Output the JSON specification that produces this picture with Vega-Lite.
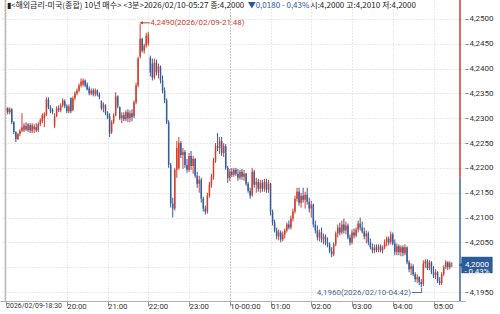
{
"$schema":"https://vega.github.io/schema/vega-lite/v6.json",
"width":465,"height":301,
"autosize":{"type":"none"},
"padding":{"left":0,"top":0,"right":35,"bottom":13},
"background":"white",
"config":{"view":{"stroke":null},"axis":{"labelFont":"Roboto, sans-serif","labelColor":"#333","title":null},"axisY":{"labelOverlap":false,"labelSeparation":0}},
"datasets":{"k":[
{"t":"2026-02-09T18:30","o":4.2315,"h":4.2322,"l":4.2308,"c":4.2320},
{"t":"2026-02-09T18:33","o":4.2320,"h":4.2322,"l":4.2308,"c":4.2312},
{"t":"2026-02-09T18:36","o":4.2312,"h":4.2322,"l":4.2308,"c":4.2318},
{"t":"2026-02-09T18:39","o":4.2318,"h":4.2320,"l":4.2288,"c":4.2292},
{"t":"2026-02-09T18:42","o":4.2292,"h":4.2294,"l":4.2268,"c":4.2272},
{"t":"2026-02-09T18:45","o":4.2272,"h":4.2274,"l":4.2252,"c":4.2258},
{"t":"2026-02-09T18:48","o":4.2258,"h":4.2270,"l":4.2256,"c":4.2268},
{"t":"2026-02-09T18:51","o":4.2268,"h":4.2278,"l":4.2264,"c":4.2275},
{"t":"2026-02-09T18:54","o":4.2275,"h":4.2310,"l":4.2272,"c":4.2282},
{"t":"2026-02-09T18:57","o":4.2276,"h":4.2290,"l":4.2272,"c":4.2286},
{"t":"2026-02-09T19:00","o":4.2284,"h":4.2292,"l":4.2274,"c":4.2278},
{"t":"2026-02-09T19:03","o":4.2276,"h":4.2290,"l":4.2272,"c":4.2288},
{"t":"2026-02-09T19:06","o":4.2286,"h":4.2290,"l":4.2270,"c":4.2276},
{"t":"2026-02-09T19:09","o":4.2274,"h":4.2290,"l":4.2270,"c":4.2286},
{"t":"2026-02-09T19:12","o":4.2278,"h":4.2288,"l":4.2270,"c":4.2284},
{"t":"2026-02-09T19:15","o":4.2282,"h":4.2290,"l":4.2272,"c":4.2276},
{"t":"2026-02-09T19:18","o":4.2276,"h":4.2292,"l":4.2272,"c":4.2288},
{"t":"2026-02-09T19:21","o":4.2288,"h":4.2300,"l":4.2284,"c":4.2296},
{"t":"2026-02-09T19:24","o":4.2294,"h":4.2310,"l":4.2290,"c":4.2306},
{"t":"2026-02-09T19:27","o":4.2300,"h":4.2312,"l":4.2282,"c":4.2308},
{"t":"2026-02-09T19:30","o":4.2306,"h":4.2342,"l":4.2304,"c":4.2338},
{"t":"2026-02-09T19:33","o":4.2338,"h":4.2342,"l":4.2318,"c":4.2322},
{"t":"2026-02-09T19:36","o":4.2322,"h":4.2326,"l":4.2310,"c":4.2314},
{"t":"2026-02-09T19:39","o":4.2316,"h":4.2320,"l":4.2308,"c":4.2312},
{"t":"2026-02-09T19:42","o":4.2284,"h":4.2310,"l":4.2280,"c":4.2304},
{"t":"2026-02-09T19:45","o":4.2304,"h":4.2324,"l":4.2302,"c":4.2320},
{"t":"2026-02-09T19:48","o":4.2320,"h":4.2326,"l":4.2312,"c":4.2316},
{"t":"2026-02-09T19:51","o":4.2316,"h":4.2330,"l":4.2312,"c":4.2326},
{"t":"2026-02-09T19:54","o":4.2326,"h":4.2340,"l":4.2322,"c":4.2336},
{"t":"2026-02-09T19:57","o":4.2334,"h":4.2338,"l":4.2320,"c":4.2324},
{"t":"2026-02-09T20:00","o":4.2324,"h":4.2328,"l":4.2310,"c":4.2314},
{"t":"2026-02-09T20:03","o":4.2314,"h":4.2328,"l":4.2310,"c":4.2324},
{"t":"2026-02-09T20:06","o":4.2340,"h":4.2342,"l":4.2310,"c":4.2314},
{"t":"2026-02-09T20:09","o":4.2316,"h":4.2344,"l":4.2314,"c":4.2340},
{"t":"2026-02-09T20:12","o":4.2340,"h":4.2354,"l":4.2336,"c":4.2350},
{"t":"2026-02-09T20:15","o":4.2350,"h":4.2360,"l":4.2346,"c":4.2356},
{"t":"2026-02-09T20:18","o":4.2356,"h":4.2370,"l":4.2352,"c":4.2366},
{"t":"2026-02-09T20:21","o":4.2366,"h":4.2380,"l":4.2362,"c":4.2374},
{"t":"2026-02-09T20:24","o":4.2368,"h":4.2380,"l":4.2364,"c":4.2376},
{"t":"2026-02-09T20:27","o":4.2376,"h":4.2378,"l":4.2362,"c":4.2366},
{"t":"2026-02-09T20:30","o":4.2368,"h":4.2372,"l":4.2356,"c":4.2358},
{"t":"2026-02-09T20:33","o":4.2360,"h":4.2364,"l":4.2346,"c":4.2350},
{"t":"2026-02-09T20:36","o":4.2350,"h":4.2360,"l":4.2346,"c":4.2356},
{"t":"2026-02-09T20:39","o":4.2356,"h":4.2360,"l":4.2344,"c":4.2348},
{"t":"2026-02-09T20:42","o":4.2348,"h":4.2360,"l":4.2344,"c":4.2356},
{"t":"2026-02-09T20:45","o":4.2356,"h":4.2358,"l":4.2344,"c":4.2348},
{"t":"2026-02-09T20:48","o":4.2348,"h":4.2352,"l":4.2338,"c":4.2342},
{"t":"2026-02-09T20:51","o":4.2334,"h":4.2336,"l":4.2316,"c":4.2320},
{"t":"2026-02-09T20:54","o":4.2320,"h":4.2332,"l":4.2312,"c":4.2328},
{"t":"2026-02-09T20:57","o":4.2326,"h":4.2328,"l":4.2306,"c":4.2310},
{"t":"2026-02-09T21:00","o":4.2310,"h":4.2314,"l":4.2298,"c":4.2302},
{"t":"2026-02-09T21:03","o":4.2304,"h":4.2310,"l":4.2262,"c":4.2270},
{"t":"2026-02-09T21:06","o":4.2272,"h":4.2296,"l":4.2268,"c":4.2292},
{"t":"2026-02-09T21:09","o":4.2292,"h":4.2310,"l":4.2288,"c":4.2306},
{"t":"2026-02-09T21:12","o":4.2306,"h":4.2352,"l":4.2304,"c":4.2344},
{"t":"2026-02-09T21:15","o":4.2344,"h":4.2346,"l":4.2320,"c":4.2324},
{"t":"2026-02-09T21:18","o":4.2322,"h":4.2324,"l":4.2296,"c":4.2300},
{"t":"2026-02-09T21:21","o":4.2300,"h":4.2312,"l":4.2290,"c":4.2306},
{"t":"2026-02-09T21:24","o":4.2306,"h":4.2312,"l":4.2294,"c":4.2298},
{"t":"2026-02-09T21:27","o":4.2298,"h":4.2316,"l":4.2294,"c":4.2312},
{"t":"2026-02-09T21:30","o":4.2312,"h":4.2318,"l":4.2292,"c":4.2300},
{"t":"2026-02-09T21:33","o":4.2300,"h":4.2316,"l":4.2292,"c":4.2310},
{"t":"2026-02-09T21:36","o":4.2310,"h":4.2318,"l":4.2294,"c":4.2302},
{"t":"2026-02-09T21:39","o":4.2304,"h":4.2336,"l":4.2300,"c":4.2332},
{"t":"2026-02-09T21:42","o":4.2332,"h":4.2372,"l":4.2328,"c":4.2366},
{"t":"2026-02-09T21:45","o":4.2366,"h":4.2424,"l":4.2362,"c":4.2420},
{"t":"2026-02-09T21:48","o":4.2424,"h":4.2490,"l":4.2420,"c":4.2460},
{"t":"2026-02-09T21:51","o":4.2460,"h":4.2462,"l":4.2432,"c":4.2436},
{"t":"2026-02-09T21:54","o":4.2436,"h":4.2450,"l":4.2430,"c":4.2446},
{"t":"2026-02-09T21:57","o":4.2446,"h":4.2472,"l":4.2442,"c":4.2466},
{"t":"2026-02-09T22:00","o":4.2450,"h":4.2474,"l":4.2446,"c":4.2468},
{"t":"2026-02-09T22:03","o":4.2422,"h":4.2426,"l":4.2384,"c":4.2392},
{"t":"2026-02-09T22:06","o":4.2410,"h":4.2420,"l":4.2376,"c":4.2382},
{"t":"2026-02-09T22:09","o":4.2382,"h":4.2420,"l":4.2378,"c":4.2412},
{"t":"2026-02-09T22:12","o":4.2412,"h":4.2418,"l":4.2386,"c":4.2392},
{"t":"2026-02-09T22:15","o":4.2392,"h":4.2410,"l":4.2380,"c":4.2404},
{"t":"2026-02-09T22:18","o":4.2404,"h":4.2406,"l":4.2370,"c":4.2376},
{"t":"2026-02-09T22:21","o":4.2376,"h":4.2386,"l":4.2350,"c":4.2356},
{"t":"2026-02-09T22:24","o":4.2356,"h":4.2362,"l":4.2330,"c":4.2336},
{"t":"2026-02-09T22:27","o":4.2336,"h":4.2340,"l":4.2288,"c":4.2292},
{"t":"2026-02-09T22:30","o":4.2292,"h":4.2296,"l":4.2200,"c":4.2206},
{"t":"2026-02-09T22:33","o":4.2206,"h":4.2210,"l":4.2120,"c":4.2128},
{"t":"2026-02-09T22:36","o":4.2128,"h":4.2140,"l":4.2100,"c":4.2118},
{"t":"2026-02-09T22:39","o":4.2118,"h":4.2200,"l":4.2114,"c":4.2196},
{"t":"2026-02-09T22:42","o":4.2196,"h":4.2254,"l":4.2180,"c":4.2240},
{"t":"2026-02-09T22:45","o":4.2200,"h":4.2262,"l":4.2196,"c":4.2250},
{"t":"2026-02-09T22:48","o":4.2250,"h":4.2254,"l":4.2220,"c":4.2226},
{"t":"2026-02-09T22:51","o":4.2226,"h":4.2240,"l":4.2198,"c":4.2232},
{"t":"2026-02-09T22:54","o":4.2232,"h":4.2236,"l":4.2200,"c":4.2206},
{"t":"2026-02-09T22:57","o":4.2206,"h":4.2218,"l":4.2190,"c":4.2196},
{"t":"2026-02-09T23:00","o":4.2196,"h":4.2230,"l":4.2192,"c":4.2224},
{"t":"2026-02-09T23:03","o":4.2224,"h":4.2234,"l":4.2196,"c":4.2204},
{"t":"2026-02-09T23:06","o":4.2204,"h":4.2224,"l":4.2188,"c":4.2218},
{"t":"2026-02-09T23:09","o":4.2218,"h":4.2220,"l":4.2180,"c":4.2184},
{"t":"2026-02-09T23:12","o":4.2184,"h":4.2192,"l":4.2160,"c":4.2168},
{"t":"2026-02-09T23:15","o":4.2168,"h":4.2184,"l":4.2150,"c":4.2176},
{"t":"2026-02-09T23:18","o":4.2176,"h":4.2180,"l":4.2130,"c":4.2138},
{"t":"2026-02-09T23:21","o":4.2138,"h":4.2142,"l":4.2112,"c":4.2118},
{"t":"2026-02-09T23:24","o":4.2118,"h":4.2124,"l":4.2106,"c":4.2112},
{"t":"2026-02-09T23:27","o":4.2112,"h":4.2150,"l":4.2108,"c":4.2144},
{"t":"2026-02-09T23:30","o":4.2144,"h":4.2172,"l":4.2140,"c":4.2166},
{"t":"2026-02-09T23:33","o":4.2166,"h":4.2188,"l":4.2160,"c":4.2182},
{"t":"2026-02-09T23:36","o":4.2182,"h":4.2220,"l":4.2176,"c":4.2214},
{"t":"2026-02-09T23:39","o":4.2214,"h":4.2250,"l":4.2210,"c":4.2244},
{"t":"2026-02-09T23:42","o":4.2244,"h":4.2270,"l":4.2234,"c":4.2240},
{"t":"2026-02-09T23:45","o":4.2240,"h":4.2262,"l":4.2228,"c":4.2254},
{"t":"2026-02-09T23:48","o":4.2254,"h":4.2262,"l":4.2224,"c":4.2230},
{"t":"2026-02-09T23:51","o":4.2230,"h":4.2250,"l":4.2222,"c":4.2244},
{"t":"2026-02-09T23:54","o":4.2244,"h":4.2248,"l":4.2196,"c":4.2200},
{"t":"2026-02-09T23:57","o":4.2200,"h":4.2204,"l":4.2170,"c":4.2180},
{"t":"2026-02-10T00:00","o":4.2180,"h":4.2198,"l":4.2174,"c":4.2192},
{"t":"2026-02-10T00:03","o":4.2192,"h":4.2200,"l":4.2182,"c":4.2186},
{"t":"2026-02-10T00:06","o":4.2186,"h":4.2200,"l":4.2182,"c":4.2196},
{"t":"2026-02-10T00:09","o":4.2196,"h":4.2200,"l":4.2184,"c":4.2188},
{"t":"2026-02-10T00:12","o":4.2188,"h":4.2198,"l":4.2174,"c":4.2180},
{"t":"2026-02-10T00:15","o":4.2180,"h":4.2196,"l":4.2176,"c":4.2192},
{"t":"2026-02-10T00:18","o":4.2192,"h":4.2198,"l":4.2176,"c":4.2182},
{"t":"2026-02-10T00:21","o":4.2182,"h":4.2196,"l":4.2174,"c":4.2188},
{"t":"2026-02-10T00:24","o":4.2188,"h":4.2190,"l":4.2164,"c":4.2168},
{"t":"2026-02-10T00:27","o":4.2168,"h":4.2172,"l":4.2150,"c":4.2154},
{"t":"2026-02-10T00:30","o":4.2154,"h":4.2160,"l":4.2138,"c":4.2144},
{"t":"2026-02-10T00:33","o":4.2146,"h":4.2200,"l":4.2142,"c":4.2192},
{"t":"2026-02-10T00:36","o":4.2192,"h":4.2196,"l":4.2160,"c":4.2166},
{"t":"2026-02-10T00:39","o":4.2166,"h":4.2180,"l":4.2150,"c":4.2172},
{"t":"2026-02-10T00:42","o":4.2172,"h":4.2178,"l":4.2152,"c":4.2158},
{"t":"2026-02-10T00:45","o":4.2158,"h":4.2176,"l":4.2150,"c":4.2170},
{"t":"2026-02-10T00:48","o":4.2170,"h":4.2176,"l":4.2152,"c":4.2158},
{"t":"2026-02-10T00:51","o":4.2158,"h":4.2178,"l":4.2152,"c":4.2172},
{"t":"2026-02-10T00:54","o":4.2172,"h":4.2178,"l":4.2150,"c":4.2156},
{"t":"2026-02-10T00:57","o":4.2156,"h":4.2176,"l":4.2150,"c":4.2168},
{"t":"2026-02-10T01:00","o":4.2168,"h":4.2170,"l":4.2104,"c":4.2112},
{"t":"2026-02-10T01:03","o":4.2112,"h":4.2116,"l":4.2084,"c":4.2090},
{"t":"2026-02-10T01:06","o":4.2090,"h":4.2096,"l":4.2070,"c":4.2074},
{"t":"2026-02-10T01:09","o":4.2074,"h":4.2080,"l":4.2056,"c":4.2062},
{"t":"2026-02-10T01:12","o":4.2062,"h":4.2076,"l":4.2054,"c":4.2070},
{"t":"2026-02-10T01:15","o":4.2070,"h":4.2074,"l":4.2050,"c":4.2056},
{"t":"2026-02-10T01:18","o":4.2056,"h":4.2072,"l":4.2052,"c":4.2066},
{"t":"2026-02-10T01:21","o":4.2066,"h":4.2078,"l":4.2058,"c":4.2074},
{"t":"2026-02-10T01:24","o":4.2074,"h":4.2090,"l":4.2070,"c":4.2086},
{"t":"2026-02-10T01:27","o":4.2086,"h":4.2094,"l":4.2076,"c":4.2080},
{"t":"2026-02-10T01:30","o":4.2080,"h":4.2104,"l":4.2076,"c":4.2098},
{"t":"2026-02-10T01:33","o":4.2098,"h":4.2118,"l":4.2092,"c":4.2112},
{"t":"2026-02-10T01:36","o":4.2112,"h":4.2144,"l":4.2108,"c":4.2138},
{"t":"2026-02-10T01:39","o":4.2138,"h":4.2160,"l":4.2132,"c":4.2152},
{"t":"2026-02-10T01:42","o":4.2152,"h":4.2160,"l":4.2124,"c":4.2130},
{"t":"2026-02-10T01:45","o":4.2130,"h":4.2150,"l":4.2120,"c":4.2144},
{"t":"2026-02-10T01:48","o":4.2144,"h":4.2160,"l":4.2130,"c":4.2136},
{"t":"2026-02-10T01:51","o":4.2136,"h":4.2152,"l":4.2118,"c":4.2146},
{"t":"2026-02-10T01:54","o":4.2146,"h":4.2160,"l":4.2126,"c":4.2132},
{"t":"2026-02-10T01:57","o":4.2132,"h":4.2140,"l":4.2110,"c":4.2118},
{"t":"2026-02-10T02:00","o":4.2118,"h":4.2134,"l":4.2100,"c":4.2126},
{"t":"2026-02-10T02:03","o":4.2126,"h":4.2128,"l":4.2080,"c":4.2086},
{"t":"2026-02-10T02:06","o":4.2086,"h":4.2094,"l":4.2068,"c":4.2074},
{"t":"2026-02-10T02:09","o":4.2074,"h":4.2084,"l":4.2054,"c":4.2060},
{"t":"2026-02-10T02:12","o":4.2060,"h":4.2076,"l":4.2052,"c":4.2070},
{"t":"2026-02-10T02:15","o":4.2070,"h":4.2080,"l":4.2050,"c":4.2056},
{"t":"2026-02-10T02:18","o":4.2056,"h":4.2068,"l":4.2046,"c":4.2062},
{"t":"2026-02-10T02:21","o":4.2062,"h":4.2066,"l":4.2044,"c":4.2050},
{"t":"2026-02-10T02:24","o":4.2050,"h":4.2060,"l":4.2040,"c":4.2046},
{"t":"2026-02-10T02:27","o":4.2046,"h":4.2050,"l":4.2028,"c":4.2032},
{"t":"2026-02-10T02:30","o":4.2032,"h":4.2040,"l":4.2020,"c":4.2026},
{"t":"2026-02-10T02:33","o":4.2026,"h":4.2050,"l":4.2022,"c":4.2046},
{"t":"2026-02-10T02:36","o":4.2046,"h":4.2072,"l":4.2042,"c":4.2068},
{"t":"2026-02-10T02:39","o":4.2068,"h":4.2086,"l":4.2060,"c":4.2080},
{"t":"2026-02-10T02:42","o":4.2080,"h":4.2090,"l":4.2064,"c":4.2070},
{"t":"2026-02-10T02:45","o":4.2070,"h":4.2094,"l":4.2066,"c":4.2086},
{"t":"2026-02-10T02:48","o":4.2086,"h":4.2098,"l":4.2068,"c":4.2074},
{"t":"2026-02-10T02:51","o":4.2074,"h":4.2092,"l":4.2066,"c":4.2084},
{"t":"2026-02-10T02:54","o":4.2084,"h":4.2088,"l":4.2056,"c":4.2060},
{"t":"2026-02-10T02:57","o":4.2060,"h":4.2066,"l":4.2044,"c":4.2050},
{"t":"2026-02-10T03:00","o":4.2050,"h":4.2076,"l":4.2046,"c":4.2070},
{"t":"2026-02-10T03:03","o":4.2070,"h":4.2078,"l":4.2058,"c":4.2064},
{"t":"2026-02-10T03:06","o":4.2064,"h":4.2080,"l":4.2060,"c":4.2076},
{"t":"2026-02-10T03:09","o":4.2076,"h":4.2094,"l":4.2070,"c":4.2088},
{"t":"2026-02-10T03:12","o":4.2088,"h":4.2100,"l":4.2074,"c":4.2080},
{"t":"2026-02-10T03:15","o":4.2080,"h":4.2092,"l":4.2068,"c":4.2072},
{"t":"2026-02-10T03:18","o":4.2072,"h":4.2080,"l":4.2056,"c":4.2062},
{"t":"2026-02-10T03:21","o":4.2062,"h":4.2074,"l":4.2048,"c":4.2068},
{"t":"2026-02-10T03:24","o":4.2068,"h":4.2072,"l":4.2044,"c":4.2050},
{"t":"2026-02-10T03:27","o":4.2050,"h":4.2058,"l":4.2036,"c":4.2040},
{"t":"2026-02-10T03:30","o":4.2040,"h":4.2048,"l":4.2028,"c":4.2034},
{"t":"2026-02-10T03:33","o":4.2034,"h":4.2046,"l":4.2028,"c":4.2040},
{"t":"2026-02-10T03:36","o":4.2040,"h":4.2046,"l":4.2030,"c":4.2034},
{"t":"2026-02-10T03:39","o":4.2034,"h":4.2046,"l":4.2030,"c":4.2042},
{"t":"2026-02-10T03:42","o":4.2042,"h":4.2046,"l":4.2030,"c":4.2034},
{"t":"2026-02-10T03:45","o":4.2034,"h":4.2044,"l":4.2028,"c":4.2040},
{"t":"2026-02-10T03:48","o":4.2040,"h":4.2056,"l":4.2036,"c":4.2050},
{"t":"2026-02-10T03:51","o":4.2050,"h":4.2062,"l":4.2042,"c":4.2058},
{"t":"2026-02-10T03:54","o":4.2058,"h":4.2062,"l":4.2044,"c":4.2050},
{"t":"2026-02-10T03:57","o":4.2050,"h":4.2072,"l":4.2046,"c":4.2066},
{"t":"2026-02-10T04:00","o":4.2066,"h":4.2070,"l":4.2044,"c":4.2048},
{"t":"2026-02-10T04:03","o":4.2048,"h":4.2056,"l":4.2024,"c":4.2030},
{"t":"2026-02-10T04:06","o":4.2030,"h":4.2048,"l":4.2024,"c":4.2042},
{"t":"2026-02-10T04:09","o":4.2042,"h":4.2046,"l":4.2024,"c":4.2030},
{"t":"2026-02-10T04:12","o":4.2030,"h":4.2044,"l":4.2022,"c":4.2040},
{"t":"2026-02-10T04:15","o":4.2040,"h":4.2044,"l":4.2022,"c":4.2028},
{"t":"2026-02-10T04:18","o":4.2028,"h":4.2046,"l":4.2024,"c":4.2040},
{"t":"2026-02-10T04:21","o":4.2040,"h":4.2042,"l":4.2006,"c":4.2010},
{"t":"2026-02-10T04:24","o":4.2010,"h":4.2014,"l":4.1990,"c":4.1996},
{"t":"2026-02-10T04:27","o":4.1996,"h":4.2008,"l":4.1984,"c":4.2002},
{"t":"2026-02-10T04:30","o":4.2002,"h":4.2006,"l":4.1982,"c":4.1986},
{"t":"2026-02-10T04:33","o":4.1986,"h":4.1990,"l":4.1970,"c":4.1976},
{"t":"2026-02-10T04:36","o":4.1976,"h":4.1986,"l":4.1968,"c":4.1980},
{"t":"2026-02-10T04:39","o":4.1980,"h":4.1982,"l":4.1964,"c":4.1970},
{"t":"2026-02-10T04:42","o":4.1970,"h":4.1976,"l":4.1960,"c":4.1966},
{"t":"2026-02-10T04:45","o":4.1966,"h":4.2014,"l":4.1962,"c":4.2008},
{"t":"2026-02-10T04:48","o":4.2008,"h":4.2016,"l":4.1998,"c":4.2012},
{"t":"2026-02-10T04:51","o":4.2012,"h":4.2016,"l":4.1994,"c":4.1998},
{"t":"2026-02-10T04:54","o":4.1998,"h":4.2014,"l":4.1994,"c":4.2010},
{"t":"2026-02-10T04:57","o":4.2010,"h":4.2012,"l":4.1986,"c":4.1990},
{"t":"2026-02-10T05:00","o":4.1990,"h":4.2002,"l":4.1978,"c":4.1984},
{"t":"2026-02-10T05:03","o":4.1984,"h":4.1996,"l":4.1976,"c":4.1990},
{"t":"2026-02-10T05:06","o":4.1990,"h":4.1992,"l":4.1968,"c":4.1972},
{"t":"2026-02-10T05:09","o":4.1972,"h":4.1980,"l":4.1964,"c":4.1968},
{"t":"2026-02-10T05:12","o":4.1968,"h":4.1990,"l":4.1964,"c":4.1986},
{"t":"2026-02-10T05:15","o":4.1986,"h":4.2004,"l":4.1982,"c":4.2000},
{"t":"2026-02-10T05:18","o":4.2000,"h":4.2014,"l":4.1996,"c":4.2010},
{"t":"2026-02-10T05:21","o":4.2010,"h":4.2012,"l":4.1994,"c":4.2000},
{"t":"2026-02-10T05:24","o":4.2000,"h":4.2012,"l":4.1996,"c":4.2008},
{"t":"2026-02-10T05:27","o":4.2000,"h":4.2010,"l":4.2000,"c":4.2000}
]},
"layer":[
{"data":{"name":"k"},
 "mark":{"type":"rule","strokeWidth":1},
 "encoding":{
  "x":{"field":"t","type":"temporal",
   "scale":{"domain":[{"year":2026,"month":2,"date":9,"hours":18,"minutes":29},{"year":2026,"month":2,"date":10,"hours":5,"minutes":39}]},
   "axis":{"values":[
     {"year":2026,"month":2,"date":9,"hours":18,"minutes":30},
     {"year":2026,"month":2,"date":9,"hours":20},
     {"year":2026,"month":2,"date":9,"hours":21},
     {"year":2026,"month":2,"date":9,"hours":22},
     {"year":2026,"month":2,"date":9,"hours":23},
     {"year":2026,"month":2,"date":10,"hours":0},
     {"year":2026,"month":2,"date":10,"hours":1},
     {"year":2026,"month":2,"date":10,"hours":2},
     {"year":2026,"month":2,"date":10,"hours":3},
     {"year":2026,"month":2,"date":10,"hours":4},
     {"year":2026,"month":2,"date":10,"hours":5}],
    "labelExpr":"hours(datum.value)==18 ? '2026/02/09-18:30' : (hours(datum.value)==0 ? '10-00:00' : timeFormat(datum.value,'%H:%M'))",
    "labelAlign":"left","labelBaseline":"top","labelPadding":-4,"labelDx":0,
    "labelFontSize":{"condition":{"test":"hours(datum.value)==18","value":6.9},"value":7.8},
    "labelOverlap":false,"labelFlush":false,"labelBound":false,
    "tickSize":5,"tickColor":"#999","domainColor":"#b0b0b0",
    "grid":true,"gridDash":[1,2],
    "gridColor":{"condition":{"test":"hours(datum.value)==0","value":"#8a8a8a"},"value":"#d4d4d4"}}},
  "y":{"field":"l","type":"quantitative",
   "scale":{"domain":[4.1932,4.2538],"zero":false,"nice":false},
   "axis":{"orient":"right","values":[4.195,4.2,4.205,4.21,4.215,4.22,4.225,4.23,4.235,4.24,4.245,4.25],"tickCount":12,
    "labelExpr":"datum.value==4.2 ? '' : replace(format(datum.value,'.4f'),'.',',')",
    "labelOverlap":false,"labelSeparation":0,"labelFlush":false,"labelBound":false,
    "domain":false,"tickSize":3,"tickColor":"#888","labelPadding":1,"labelFontSize":8,"labelBaseline":"middle",
    "grid":true,"gridDash":[1,2],"gridColor":"#d4d4d4"}},
  "y2":{"field":"h"},
  "color":{"condition":{"test":"datum.c > datum.o","value":"#d43d2a"},"value":"#365c9c"}}},
{"data":{"name":"k"},
 "mark":{"type":"bar","size":1.5},
 "encoding":{
  "x":{"field":"t","type":"temporal"},
  "y":{"field":"o","type":"quantitative","axis":{"orient":"right","values":[4.195,4.2,4.205,4.21,4.215,4.22,4.225,4.23,4.235,4.24,4.245,4.25],"labelOverlap":false}},
  "y2":{"field":"c"},
  "color":{"condition":{"test":"datum.c > datum.o","value":"#d43d2a"},"value":"#365c9c"}}},
{"data":{"values":[{}]},
 "mark":{"type":"rule","color":"#bdbdbd","strokeWidth":1.5},
 "encoding":{"x":{"datum":{"year":2026,"month":2,"date":9,"hours":18,"minutes":29,"seconds":30}},"y":{"datum":4.2538},"y2":{"datum":4.1932}}},
{"data":{"values":[{}]},
 "mark":{"type":"rule","color":"#d8392b","strokeWidth":1.5},
 "encoding":{"x":{"datum":{"year":2026,"month":2,"date":10,"hours":5,"minutes":39}},"y":{"datum":4.2538},"y2":{"datum":4.218}}},
{"data":{"values":[{}]},
 "mark":{"type":"rule","color":"#3b62a6","strokeWidth":1.5},
 "encoding":{"x":{"datum":{"year":2026,"month":2,"date":10,"hours":5,"minutes":39}},"y":{"datum":4.218},"y2":{"datum":4.1932}}},
{"data":{"values":[{}]},
 "mark":{"type":"rule","color":"#c8402e","strokeWidth":1},
 "encoding":{"x":{"datum":{"year":2026,"month":2,"date":9,"hours":21,"minutes":48}},"x2":{"datum":{"year":2026,"month":2,"date":9,"hours":22,"minutes":2,"seconds":15}},"y":{"datum":4.2492}}},
{"data":{"values":[{}]},
 "mark":{"type":"point","shape":"triangle-left","filled":true,"size":12,"color":"#c8402e","opacity":1},
 "encoding":{"x":{"datum":{"year":2026,"month":2,"date":9,"hours":21,"minutes":50}},"y":{"datum":4.2492}}},
{"data":{"values":[{}]},
 "mark":{"type":"text","text":"4,2490(2026/02/09-21:48)","align":"left","baseline":"middle","font":"Roboto, sans-serif","fontSize":8,"color":"#c8402e"},
 "encoding":{"x":{"datum":{"year":2026,"month":2,"date":9,"hours":22,"minutes":3}},"y":{"datum":4.2491}}},
{"data":{"values":[{}]},
 "mark":{"type":"rule","color":"#4a6899","strokeWidth":1},
 "encoding":{"x":{"datum":{"year":2026,"month":2,"date":10,"hours":4,"minutes":28,"seconds":24}},"x2":{"datum":{"year":2026,"month":2,"date":10,"hours":4,"minutes":42,"seconds":30}},"y":{"datum":4.1949}}},
{"data":{"values":[{}]},
 "mark":{"type":"rule","color":"#4a6899","strokeWidth":1},
 "encoding":{"x":{"datum":{"year":2026,"month":2,"date":10,"hours":4,"minutes":42,"seconds":30}},"y":{"datum":4.1949},"y2":{"datum":4.1959}}},
{"data":{"values":[{}]},
 "mark":{"type":"text","text":"4,1960(2026/02/10-04:42)","align":"right","baseline":"middle","font":"Roboto, sans-serif","fontSize":8,"color":"#4a6899"},
 "encoding":{"x":{"datum":{"year":2026,"month":2,"date":10,"hours":4,"minutes":27}},"y":{"datum":4.1949}}},
{"data":{"values":[{}]},
 "mark":{"type":"point","shape":"triangle-left","filled":true,"size":26,"color":"#2d5a98","opacity":1},
 "encoding":{"x":{"datum":{"year":2026,"month":2,"date":10,"hours":5,"minutes":40}},"y":{"datum":4.20045}}},
{"data":{"values":[{}]},
 "mark":{"type":"rect","color":"#2d5a98"},
 "encoding":{"x":{"datum":{"year":2026,"month":2,"date":10,"hours":5,"minutes":41}},"x2":{"datum":{"year":2026,"month":2,"date":10,"hours":6,"minutes":27}},"y":{"datum":4.2021},"y2":{"datum":4.1988}}},
{"data":{"values":[{}]},
 "mark":{"type":"text","text":["4,2000","- 0,43%"],"lineHeight":7.5,"align":"center","baseline":"middle","font":"Roboto, sans-serif","fontSize":8,"color":"white"},
 "encoding":{"x":{"datum":{"year":2026,"month":2,"date":10,"hours":6,"minutes":4}},"y":{"datum":4.20045}}},
{"data":{"values":[{}]},
 "mark":{"type":"text","text":"▮<해외금리-미국(종합) 10년 매수> <3분>2026/02/10-05:27 종:4,2000","align":"left","baseline":"middle","font":"Noto Sans CJK KR","fontSize":8,"color":"#222"},
 "encoding":{"x":{"datum":{"year":2026,"month":2,"date":9,"hours":18,"minutes":31,"seconds":53}},"y":{"datum":4.2526}}},
{"data":{"values":[{}]},
 "mark":{"type":"text","text":"▼0,0180 - 0,43%","align":"left","baseline":"middle","font":"Noto Sans CJK KR","fontSize":8,"color":"#2b55a0"},
 "encoding":{"x":{"datum":{"year":2026,"month":2,"date":10,"hours":0,"minutes":26,"seconds":20}},"y":{"datum":4.2526}}},
{"data":{"values":[{}]},
 "mark":{"type":"text","text":"시:4,2000 고:4,2010 저:4,2000","align":"left","baseline":"middle","font":"Noto Sans CJK KR","fontSize":8,"color":"#222"},
 "encoding":{"x":{"datum":{"year":2026,"month":2,"date":10,"hours":1,"minutes":58,"seconds":32}},"y":{"datum":4.2526}}}
]
}
